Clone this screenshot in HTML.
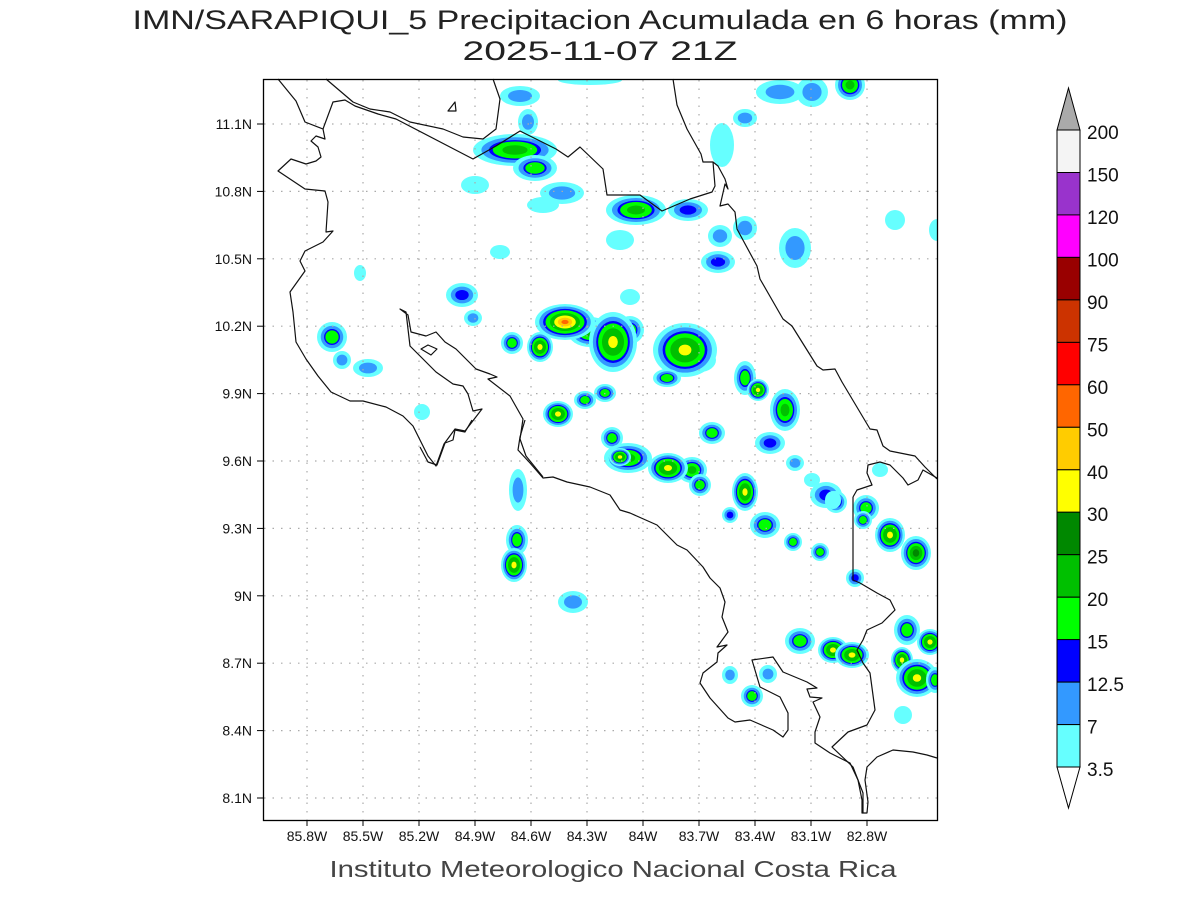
<!DOCTYPE html>
<html><head><meta charset="utf-8"><style>
html,body{margin:0;padding:0;background:#fff;}
svg{display:block;font-family:"Liberation Sans",sans-serif;}
</style></head><body>
<svg width="1200" height="900" viewBox="0 0 1200 900" xmlns="http://www.w3.org/2000/svg" xmlns:xlink="http://www.w3.org/1999/xlink">
<defs>
<clipPath id="pc"><rect x="264" y="80" width="673" height="740"/></clipPath>
<g id="L1"><circle r="1" fill="#66ffff"/></g>
<g id="L2"><circle r="1" fill="#66ffff"/><circle r=".6" fill="#3399ff"/></g>
<g id="L3"><circle r="1" fill="#66ffff"/><circle r=".7" fill="#3399ff"/><circle r=".42" fill="#0000ff"/></g>
<g id="L4"><circle r="1" fill="#66ffff"/><circle r=".75" fill="#3399ff"/><circle r=".53" fill="#0000ff"/><circle r=".44" fill="#00ff00"/></g>
<g id="L5"><circle r="1" fill="#66ffff"/><circle r=".8" fill="#3399ff"/><circle r=".62" fill="#0000ff"/><circle r=".53" fill="#00ff00"/><circle r=".3" fill="#00c000"/></g>
<g id="L6"><circle r="1" fill="#66ffff"/><circle r=".82" fill="#3399ff"/><circle r=".66" fill="#0000ff"/><circle r=".58" fill="#00ff00"/><circle r=".42" fill="#00c000"/><circle r=".22" fill="#008800"/></g>
<g id="L7"><circle r="1" fill="#66ffff"/><circle r=".84" fill="#3399ff"/><circle r=".7" fill="#0000ff"/><circle r=".62" fill="#00ff00"/><circle r=".46" fill="#00c000"/><circle r=".2" fill="#ffff00"/></g>
<g id="L8"><circle r="1" fill="#66ffff"/><circle r=".86" fill="#3399ff"/><circle r=".73" fill="#0000ff"/><circle r=".65" fill="#00ff00"/><circle r=".5" fill="#00c000"/><circle r=".36" fill="#ffff00"/><circle r=".24" fill="#ffcc00"/><circle r=".12" fill="#ff6600"/></g>
</defs>
<rect width="1200" height="900" fill="#fff"/>
<text x="600" y="29" font-size="27" text-anchor="middle" textLength="935" lengthAdjust="spacingAndGlyphs" fill="#222">IMN/SARAPIQUI_5 Precipitacion Acumulada en 6 horas (mm)</text>
<text x="600" y="60" font-size="27" text-anchor="middle" textLength="275" lengthAdjust="spacingAndGlyphs" fill="#222">2025-11-07 21Z</text>
<text x="613" y="877" font-size="23" text-anchor="middle" textLength="567" lengthAdjust="spacingAndGlyphs" fill="#444">Instituto Meteorologico Nacional Costa Rica</text>
<g clip-path="url(#pc)">
<use xlink:href="#L2" transform="translate(520,96) scale(20,10)"/>
<use xlink:href="#L2" transform="translate(528,122) scale(10,13)"/>
<use xlink:href="#L5" transform="translate(515,150) scale(42,16)"/>
<use xlink:href="#L4" transform="translate(535,168) scale(22,13)"/>
<use xlink:href="#L1" transform="translate(475,185) scale(14,9)"/>
<use xlink:href="#L2" transform="translate(562,193) scale(22,11)"/>
<use xlink:href="#L1" transform="translate(543,205) scale(16,8)"/>
<use xlink:href="#L1" transform="translate(500,252) scale(10,7)"/>
<use xlink:href="#L1" transform="translate(360,273) scale(6,8)"/>
<use xlink:href="#L3" transform="translate(462,295) scale(16,12)"/>
<use xlink:href="#L2" transform="translate(473,318) scale(9,8)"/>
<use xlink:href="#L4" transform="translate(332,337) scale(15,15)"/>
<use xlink:href="#L2" transform="translate(342,360) scale(9,9)"/>
<use xlink:href="#L2" transform="translate(368,368) scale(15,9)"/>
<use xlink:href="#L5" transform="translate(590,332) scale(22,15)"/>
<use xlink:href="#L8" transform="translate(565,322) scale(30,18)"/>
<use xlink:href="#L4" transform="translate(630,330) scale(14,14)"/>
<use xlink:href="#L7" transform="translate(613,342) scale(24,30)"/>
<use xlink:href="#L4" transform="translate(512,343) scale(11,11)"/>
<use xlink:href="#L7" transform="translate(540,347) scale(13,15)"/>
<use xlink:href="#L1" transform="translate(630,297) scale(10,8)"/>
<use xlink:href="#L5" transform="translate(700,360) scale(16,12)"/>
<use xlink:href="#L7" transform="translate(685,350) scale(32,27)"/>
<use xlink:href="#L4" transform="translate(667,378) scale(14,9)"/>
<use xlink:href="#L4" transform="translate(745,378) scale(11,17)"/>
<use xlink:href="#L7" transform="translate(758,390) scale(11,11)"/>
<use xlink:href="#L5" transform="translate(785,410) scale(15,21)"/>
<use xlink:href="#L1" transform="translate(620,240) scale(14,10)"/>
<use xlink:href="#L2" transform="translate(720,236) scale(12,11)"/>
<use xlink:href="#L3" transform="translate(718,262) scale(17,11)"/>
<use xlink:href="#L2" transform="translate(795,248) scale(16,20)"/>
<use xlink:href="#L2" transform="translate(745,228) scale(12,12)"/>
<use xlink:href="#L5" transform="translate(636,210) scale(30,15)"/>
<use xlink:href="#L3" transform="translate(688,210) scale(20,11)"/>
<use xlink:href="#L2" transform="translate(745,118) scale(12,9)"/>
<use xlink:href="#L2" transform="translate(780,92) scale(24,12)"/>
<use xlink:href="#L2" transform="translate(812,92) scale(16,15)"/>
<use xlink:href="#L5" transform="translate(850,85) scale(15,15)"/>
<use xlink:href="#L1" transform="translate(722,145) scale(12,22)"/>
<use xlink:href="#L1" transform="translate(590,80) scale(32,5)"/>
<use xlink:href="#L1" transform="translate(895,220) scale(10,10)"/>
<use xlink:href="#L1" transform="translate(937,230) scale(8,11)"/>
<use xlink:href="#L1" transform="translate(422,412) scale(8,8)"/>
<use xlink:href="#L7" transform="translate(558,414) scale(15,13)"/>
<use xlink:href="#L4" transform="translate(585,400) scale(11,9)"/>
<use xlink:href="#L4" transform="translate(605,393) scale(11,9)"/>
<use xlink:href="#L4" transform="translate(612,438) scale(11,11)"/>
<use xlink:href="#L5" transform="translate(628,458) scale(24,15)"/>
<use xlink:href="#L7" transform="translate(620,457) scale(11,9)"/>
<use xlink:href="#L5" transform="translate(692,470) scale(15,13)"/>
<use xlink:href="#L7" transform="translate(668,468) scale(20,15)"/>
<use xlink:href="#L4" transform="translate(700,485) scale(11,11)"/>
<use xlink:href="#L4" transform="translate(712,433) scale(13,11)"/>
<use xlink:href="#L7" transform="translate(745,492) scale(13,19)"/>
<use xlink:href="#L3" transform="translate(770,443) scale(15,11)"/>
<use xlink:href="#L3" transform="translate(730,515) scale(8,8)"/>
<use xlink:href="#L4" transform="translate(765,525) scale(15,13)"/>
<use xlink:href="#L4" transform="translate(793,542) scale(9,9)"/>
<use xlink:href="#L4" transform="translate(820,552) scale(9,9)"/>
<use xlink:href="#L3" transform="translate(826,495) scale(16,13)"/>
<use xlink:href="#L4" transform="translate(836,502) scale(11,11)"/>
<use xlink:href="#L4" transform="translate(866,508) scale(13,13)"/>
<use xlink:href="#L4" transform="translate(863,520) scale(9,9)"/>
<use xlink:href="#L7" transform="translate(890,535) scale(15,17)"/>
<use xlink:href="#L6" transform="translate(916,553) scale(15,17)"/>
<use xlink:href="#L2" transform="translate(518,490) scale(9,21)"/>
<use xlink:href="#L4" transform="translate(517,540) scale(11,15)"/>
<use xlink:href="#L7" transform="translate(514,565) scale(13,17)"/>
<use xlink:href="#L2" transform="translate(573,602) scale(15,11)"/>
<use xlink:href="#L3" transform="translate(855,578) scale(9,9)"/>
<use xlink:href="#L4" transform="translate(800,641) scale(15,13)"/>
<use xlink:href="#L7" transform="translate(833,650) scale(15,13)"/>
<use xlink:href="#L7" transform="translate(852,655) scale(17,13)"/>
<use xlink:href="#L4" transform="translate(907,630) scale(13,15)"/>
<use xlink:href="#L7" transform="translate(930,642) scale(13,13)"/>
<use xlink:href="#L7" transform="translate(902,660) scale(11,13)"/>
<use xlink:href="#L7" transform="translate(917,678) scale(21,19)"/>
<use xlink:href="#L4" transform="translate(935,680) scale(9,13)"/>
<use xlink:href="#L4" transform="translate(752,696) scale(11,11)"/>
<use xlink:href="#L2" transform="translate(730,675) scale(8,9)"/>
<use xlink:href="#L2" transform="translate(768,674) scale(9,9)"/>
<use xlink:href="#L1" transform="translate(903,715) scale(9,9)"/>
<use xlink:href="#L1" transform="translate(833,500) scale(8,9)"/>
<use xlink:href="#L1" transform="translate(880,470) scale(8,7)"/>
<use xlink:href="#L1" transform="translate(812,480) scale(8,7)"/>
<use xlink:href="#L2" transform="translate(795,463) scale(9,8)"/>
</g>
<g stroke="#aaa" stroke-width="1.2" stroke-dasharray="1.5,7">
<line x1="307" y1="80" x2="307" y2="820"/><line x1="363" y1="80" x2="363" y2="820"/><line x1="419" y1="80" x2="419" y2="820"/><line x1="475" y1="80" x2="475" y2="820"/><line x1="531" y1="80" x2="531" y2="820"/><line x1="587" y1="80" x2="587" y2="820"/><line x1="643" y1="80" x2="643" y2="820"/><line x1="699" y1="80" x2="699" y2="820"/><line x1="755" y1="80" x2="755" y2="820"/><line x1="811" y1="80" x2="811" y2="820"/><line x1="867" y1="80" x2="867" y2="820"/>
<line x1="264" y1="124" x2="937" y2="124"/><line x1="264" y1="191.4" x2="937" y2="191.4"/><line x1="264" y1="258.8" x2="937" y2="258.8"/><line x1="264" y1="326.2" x2="937" y2="326.2"/><line x1="264" y1="393.6" x2="937" y2="393.6"/><line x1="264" y1="461" x2="937" y2="461"/><line x1="264" y1="528.4" x2="937" y2="528.4"/><line x1="264" y1="595.8" x2="937" y2="595.8"/><line x1="264" y1="663.2" x2="937" y2="663.2"/><line x1="264" y1="730.6" x2="937" y2="730.6"/><line x1="264" y1="798" x2="937" y2="798"/>
</g>
<g fill="none" stroke="#111" stroke-width="1.2" stroke-linejoin="round">
<polyline points="326,79 353,102 370,109 390,112 410,122 443,129 463,137 483,139 496,129 500,99 493,79"/>
<polyline points="278,79 296,101 305,122 323,129 325,139 316,136 311,141 318,147 321,157 316,161 306,164 291,159 278,171 305,189 325,191 328,202 326,232 333,231 323,242 305,251 300,261 305,271 290,292 293,312 296,342 306,359 318,376 331,392 350,401 363,401 386,407 403,416 413,426 428,456 436,466 444,444 455,429 465,431 472,422 482,409 473,411 468,394 463,386 453,384 436,372 420,356 410,346 406,312 400,309 408,315 411,332 426,336 436,332 445,342 456,349 466,359 476,369 490,374 497,377 488,379 510,396 523,419 520,439 526,456 543,477"/>
<polyline points="420,447 428,462 437,465 445,443 453,440 455,430 465,432 472,420"/>
<polygon points="421,349 428,345 437,349 431,355"/>
<polygon points="448,111 455,102 456,111"/>
<polyline points="323,129 333,102 345,100 355,106 378,114 396,119 473,159 496,146 520,131 556,149 568,157 580,147 603,169 607,195 640,195 662,211 690,199 712,192 715,186 713,162 703,162 713,162 718,166 725,179 728,189 725,184 720,206 728,204 735,212 737,229 757,266 760,279 783,319 792,326 817,366 823,370 835,369 842,382 870,429 877,430 883,446 890,451 915,456 925,467 937,479"/>
<polyline points="673,79 677,105 687,129 701,154 703,162"/>
<polyline points="525,420 520,437 518,450 530,463 543,478 553,477 567,482 590,487 610,495 620,510 630,513 657,525 677,545 687,550 703,567 710,578 720,588 725,602 722,617 728,632 720,643 717,647 727,645 718,653 717,662 703,673 700,683 710,698 728,718 735,722 750,720 773,730 783,737 788,730 788,713 780,697 760,687 752,660 773,657 783,672 807,682 817,688 807,689 810,697 822,698 813,702 820,717 815,732 815,743 830,753 850,763 858,780 862,800 862,813 867,813 868,802 865,780 867,767 877,757 893,750 913,752 927,755 937,758"/>
<polyline points="853,497 853,580 860,583 877,593 890,600 895,610 882,623 867,630 863,640 857,650 863,663 870,673 875,710 867,725 848,732 832,747 853,767 863,793 863,813"/>
<polyline points="853,497 857,490 872,485 867,473 868,465 880,462 890,465 903,478 908,485 918,480 923,470 937,478"/>
</g>
<rect x="263.5" y="79.5" width="674" height="741" fill="none" stroke="#000" stroke-width="1.3"/>
<g stroke="#000">
<line x1="307" y1="820" x2="307" y2="826"/><line x1="363" y1="820" x2="363" y2="826"/><line x1="419" y1="820" x2="419" y2="826"/><line x1="475" y1="820" x2="475" y2="826"/><line x1="531" y1="820" x2="531" y2="826"/><line x1="587" y1="820" x2="587" y2="826"/><line x1="643" y1="820" x2="643" y2="826"/><line x1="699" y1="820" x2="699" y2="826"/><line x1="755" y1="820" x2="755" y2="826"/><line x1="811" y1="820" x2="811" y2="826"/><line x1="867" y1="820" x2="867" y2="826"/>
<line x1="257" y1="124" x2="263" y2="124"/><line x1="257" y1="191.4" x2="263" y2="191.4"/><line x1="257" y1="258.8" x2="263" y2="258.8"/><line x1="257" y1="326.2" x2="263" y2="326.2"/><line x1="257" y1="393.6" x2="263" y2="393.6"/><line x1="257" y1="461" x2="263" y2="461"/><line x1="257" y1="528.4" x2="263" y2="528.4"/><line x1="257" y1="595.8" x2="263" y2="595.8"/><line x1="257" y1="663.2" x2="263" y2="663.2"/><line x1="257" y1="730.6" x2="263" y2="730.6"/><line x1="257" y1="798" x2="263" y2="798"/>
</g>
<g font-size="14" fill="#111" text-anchor="middle">
<text x="307" y="841">85.8W</text><text x="363" y="841">85.5W</text><text x="419" y="841">85.2W</text><text x="475" y="841">84.9W</text><text x="531" y="841">84.6W</text><text x="587" y="841">84.3W</text><text x="643" y="841">84W</text><text x="699" y="841">83.7W</text><text x="755" y="841">83.4W</text><text x="811" y="841">83.1W</text><text x="867" y="841">82.8W</text>
</g>
<g font-size="14" fill="#111" text-anchor="end">
<text x="252" y="129">11.1N</text><text x="252" y="196.4">10.8N</text><text x="252" y="263.8">10.5N</text><text x="252" y="331.2">10.2N</text><text x="252" y="398.6">9.9N</text><text x="252" y="466">9.6N</text><text x="252" y="533.4">9.3N</text><text x="252" y="600.8">9N</text><text x="252" y="668.2">8.7N</text><text x="252" y="735.6">8.4N</text><text x="252" y="803">8.1N</text>
</g>
<g stroke="#000" stroke-width="1">
<polygon points="1057,130 1080,130 1068.5,88" fill="#aaa"/>
<rect x="1057" y="130" width="23" height="42.5" fill="#f4f4f4"/>
<rect x="1057" y="172.5" width="23" height="42.5" fill="#9933cc"/>
<rect x="1057" y="214.9" width="23" height="42.5" fill="#ff00ff"/>
<rect x="1057" y="257.4" width="23" height="42.5" fill="#990000"/>
<rect x="1057" y="299.9" width="23" height="42.5" fill="#cc3300"/>
<rect x="1057" y="342.4" width="23" height="42.5" fill="#ff0000"/>
<rect x="1057" y="384.8" width="23" height="42.5" fill="#ff6600"/>
<rect x="1057" y="427.3" width="23" height="42.5" fill="#ffcc00"/>
<rect x="1057" y="469.8" width="23" height="42.5" fill="#ffff00"/>
<rect x="1057" y="512.2" width="23" height="42.5" fill="#008800"/>
<rect x="1057" y="554.7" width="23" height="42.5" fill="#00c000"/>
<rect x="1057" y="597.2" width="23" height="42.5" fill="#00ff00"/>
<rect x="1057" y="639.6" width="23" height="42.5" fill="#0000ff"/>
<rect x="1057" y="682.1" width="23" height="42.5" fill="#3399ff"/>
<rect x="1057" y="724.6" width="23" height="42.5" fill="#66ffff"/>
<polygon points="1057,767 1080,767 1068.5,808" fill="#fff"/>
</g>
<g font-size="19" fill="#111">
<text x="1087" y="139">200</text><text x="1087" y="181.5">150</text><text x="1087" y="223.9">120</text><text x="1087" y="266.4">100</text><text x="1087" y="308.9">90</text><text x="1087" y="351.4">75</text><text x="1087" y="393.8">60</text><text x="1087" y="436.3">50</text><text x="1087" y="478.8">40</text><text x="1087" y="521.2">30</text><text x="1087" y="563.7">25</text><text x="1087" y="606.2">20</text><text x="1087" y="648.6">15</text><text x="1087" y="691.1">12.5</text><text x="1087" y="733.6">7</text><text x="1087" y="776">3.5</text>
</g>
</svg>
</body></html>
